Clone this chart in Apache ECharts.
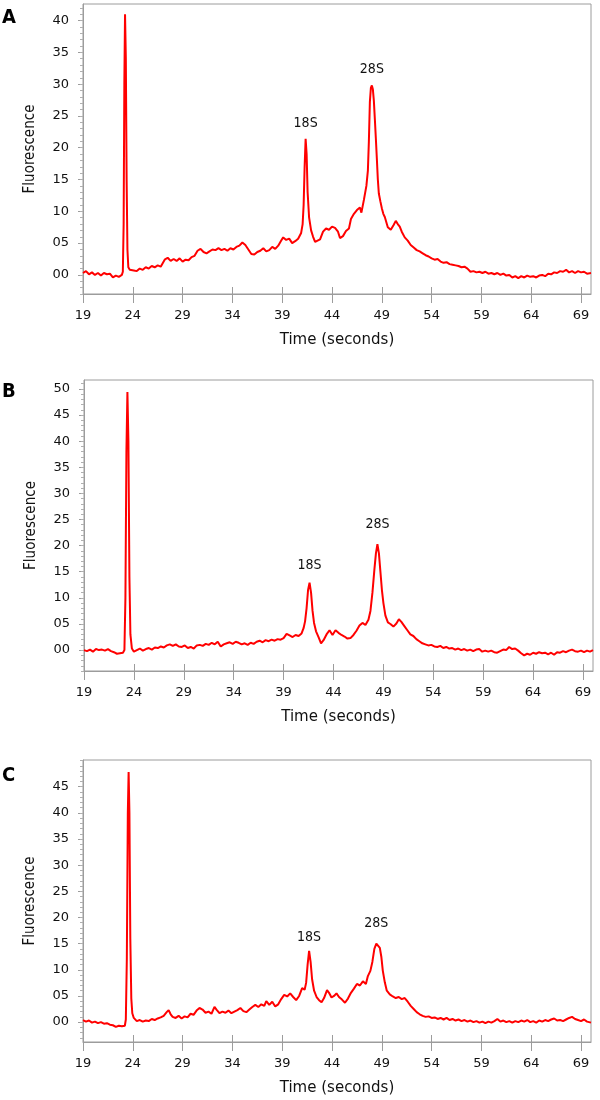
<!DOCTYPE html>
<html>
<head>
<meta charset="utf-8">
<script src="https://cdn.jsdelivr.net/npm/echarts@6/dist/echarts.min.js"></script>
<style>html,body{margin:0;padding:0;background:#fff}#c{width:600px;height:1100px}</style>
</head>
<body>
<div id="c"></div>
<script>
// ---- data (time in seconds, fluorescence) ----
const panelA = [[19.0,0.3],[19.3,0.6],[19.6,0.1],[19.9,0.4],[20.2,0.0],[20.5,0.3],[20.8,-0.1],[21.1,0.3],[21.4,0.1],[21.7,0.2],[22.0,-0.4],[22.3,-0.1],[22.6,-0.3],[22.9,0.0],[23.0,0.5],[23.08,8],[23.15,30],[23.22,41.0],[23.3,34],[23.38,15],[23.46,4],[23.55,1.2],[23.7,0.8],[23.9,0.5],[24.1,0.7],[24.4,0.6],[24.7,1.0],[25.0,0.8],[25.3,1.2],[25.6,1.0],[25.9,1.4],[26.2,1.2],[26.5,1.5],[26.8,1.3],[27.0,1.5],[27.2,2.4],[27.5,2.7],[27.8,2.2],[28.1,2.5],[28.4,2.2],[28.7,2.6],[29.0,2.1],[29.3,2.4],[29.6,2.3],[29.9,2.8],[30.2,3.0],[30.5,3.8],[30.8,4.1],[31.1,3.6],[31.4,3.4],[31.7,3.7],[32.0,4.0],[32.3,3.9],[32.6,4.2],[32.9,3.9],[33.2,4.1],[33.5,3.8],[33.8,4.2],[34.1,4.0],[34.4,4.4],[34.7,4.6],[35.0,5.1],[35.3,4.7],[35.6,4.0],[35.9,3.3],[36.2,3.2],[36.5,3.6],[36.8,3.8],[37.1,4.2],[37.4,3.7],[37.7,3.9],[38.0,4.4],[38.3,4.1],[38.6,4.6],[38.9,5.4],[39.1,5.9],[39.4,5.5],[39.7,5.7],[40.0,5.0],[40.3,5.3],[40.6,5.7],[40.9,6.6],[41.05,8.0],[41.15,11],[41.25,17],[41.35,21.4],[41.45,19],[41.55,13],[41.7,9.0],[41.9,7.0],[42.1,6.0],[42.3,5.2],[42.5,4.9],[42.8,5.6],[43.1,6.8],[43.4,7.3],[43.7,7.1],[44.0,7.6],[44.3,7.4],[44.6,6.8],[44.8,5.8],[45.1,6.1],[45.4,6.9],[45.7,7.3],[45.9,8.8],[46.2,9.6],[46.5,10.2],[46.8,10.6],[46.95,9.8],[47.2,11.8],[47.45,14],[47.6,16.4],[47.7,21],[47.8,27.2],[47.9,29.4],[48.0,29.8],[48.1,29.2],[48.2,27.4],[48.3,24.5],[48.4,21.5],[48.5,18.3],[48.6,15],[48.7,12.8],[48.85,11.6],[49.0,10.5],[49.15,9.6],[49.3,9.1],[49.6,7.5],[49.9,7.1],[50.2,7.9],[50.4,8.5],[50.6,8.0],[50.8,7.6],[51.0,6.8],[51.3,5.9],[51.6,5.4],[51.9,4.7],[52.2,4.3],[52.5,3.9],[52.8,3.7],[53.1,3.4],[53.4,3.1],[53.7,2.9],[54.0,2.6],[54.3,2.4],[54.6,2.5],[54.9,2.1],[55.2,1.9],[55.5,2.0],[55.8,1.7],[56.1,1.6],[56.4,1.5],[56.7,1.4],[57.0,1.2],[57.3,1.3],[57.6,1.0],[57.9,0.5],[58.2,0.6],[58.5,0.4],[58.8,0.5],[59.1,0.3],[59.4,0.5],[59.7,0.2],[60.0,0.3],[60.3,0.1],[60.6,0.3],[60.9,0.0],[61.2,0.2],[61.5,-0.1],[61.8,0.0],[62.1,-0.4],[62.4,-0.2],[62.7,-0.5],[63.0,-0.2],[63.3,-0.4],[63.6,-0.1],[63.9,-0.3],[64.2,-0.2],[64.5,-0.4],[64.8,-0.1],[65.1,0.0],[65.4,-0.2],[65.7,0.2],[66.0,0.1],[66.3,0.4],[66.6,0.3],[66.9,0.6],[67.2,0.5],[67.5,0.8],[67.8,0.4],[68.1,0.6],[68.4,0.3],[68.7,0.6],[69.0,0.4],[69.3,0.5],[69.6,0.2],[70.0,0.3]];

const panelB = [[19.0,0.0],[19.3,-0.2],[19.6,0.1],[19.9,-0.3],[20.2,0.2],[20.5,0.0],[20.8,0.1],[21.1,-0.1],[21.4,0.2],[21.7,-0.2],[22.0,-0.4],[22.3,-0.7],[22.6,-0.6],[22.9,-0.5],[23.05,0.0],[23.15,10],[23.25,38],[23.35,49.4],[23.45,40],[23.55,14],[23.65,3],[23.8,0.3],[24.0,-0.3],[24.3,0.0],[24.6,0.3],[24.9,-0.1],[25.2,0.2],[25.5,0.4],[25.8,0.1],[26.1,0.5],[26.4,0.4],[26.7,0.7],[27.0,0.5],[27.3,0.9],[27.6,1.1],[27.9,0.8],[28.2,1.1],[28.5,0.7],[28.8,0.6],[29.1,0.9],[29.4,0.4],[29.7,0.6],[30.0,0.3],[30.3,0.9],[30.6,1.0],[30.9,0.8],[31.2,1.2],[31.5,1.0],[31.8,1.4],[32.1,1.1],[32.4,1.6],[32.7,0.7],[33.0,1.1],[33.3,1.3],[33.6,1.5],[33.9,1.2],[34.2,1.6],[34.5,1.4],[34.8,1.1],[35.1,1.3],[35.4,1.0],[35.7,1.4],[36.0,1.2],[36.3,1.6],[36.6,1.8],[36.9,1.5],[37.2,1.9],[37.5,1.7],[37.8,2.0],[38.1,1.8],[38.4,2.1],[38.7,2.0],[39.0,2.3],[39.3,3.1],[39.6,2.8],[39.9,2.5],[40.2,2.9],[40.5,2.7],[40.8,3.2],[41.0,4.2],[41.15,5.5],[41.3,8],[41.45,11.5],[41.6,12.9],[41.75,11],[41.9,7.5],[42.05,5.2],[42.25,3.6],[42.5,2.5],[42.75,1.3],[43.0,1.9],[43.3,3.0],[43.6,3.8],[43.9,2.9],[44.2,3.8],[44.5,3.3],[44.8,2.9],[45.1,2.6],[45.4,2.2],[45.7,2.3],[46.0,2.9],[46.3,3.7],[46.6,4.7],[46.9,5.2],[47.2,4.8],[47.5,5.8],[47.7,7.5],[47.9,11],[48.1,15.5],[48.25,18.5],[48.4,20.3],[48.55,18.5],[48.7,15],[48.85,11.5],[49.0,9.0],[49.2,6.6],[49.45,5.3],[49.7,5.0],[50.0,4.5],[50.3,5.1],[50.55,5.9],[50.8,5.4],[51.1,4.6],[51.4,3.8],[51.7,3.0],[52.0,2.7],[52.3,2.1],[52.6,1.7],[52.9,1.3],[53.2,1.1],[53.5,0.9],[53.8,1.0],[54.1,0.7],[54.4,0.6],[54.7,0.8],[55.0,0.4],[55.3,0.6],[55.6,0.3],[55.9,0.4],[56.2,0.1],[56.5,0.3],[56.8,0.0],[57.1,0.2],[57.4,-0.1],[57.7,0.1],[58.0,-0.2],[58.3,0.1],[58.6,0.2],[58.9,-0.3],[59.2,-0.1],[59.5,-0.3],[59.8,-0.1],[60.1,-0.4],[60.4,-0.5],[60.7,-0.2],[61.0,0.1],[61.3,0.0],[61.6,0.6],[61.9,0.2],[62.2,0.3],[62.5,-0.1],[62.8,-0.6],[63.1,-1.0],[63.4,-0.7],[63.7,-0.9],[64.0,-0.5],[64.3,-0.7],[64.6,-0.4],[64.9,-0.6],[65.2,-0.5],[65.5,-0.8],[65.8,-0.5],[66.1,-0.9],[66.4,-0.4],[66.7,-0.5],[67.0,-0.2],[67.3,-0.4],[67.6,-0.1],[67.9,0.1],[68.2,-0.2],[68.5,-0.3],[68.8,-0.1],[69.1,-0.4],[69.4,-0.1],[69.7,-0.3],[70.0,0.0]];

const panelC = [[19.0,0.4],[19.3,0.1],[19.6,0.3],[19.9,-0.1],[20.2,0.1],[20.5,-0.2],[20.8,0.0],[21.1,-0.3],[21.4,-0.2],[21.7,-0.5],[22.0,-0.6],[22.3,-0.9],[22.6,-0.7],[22.9,-0.8],[23.2,-0.7],[23.3,0.5],[23.4,12],[23.5,40],[23.58,47.8],[23.66,40],[23.75,16],[23.85,4.5],[23.95,1.7],[24.1,0.8],[24.4,0.2],[24.7,0.4],[25.0,0.1],[25.3,0.3],[25.6,0.2],[25.9,0.6],[26.2,0.4],[26.5,0.7],[26.8,0.9],[27.1,1.2],[27.4,1.9],[27.6,2.3],[27.8,1.5],[28.0,1.0],[28.3,0.8],[28.6,1.2],[28.9,0.7],[29.2,1.1],[29.5,0.9],[29.8,1.6],[30.1,1.4],[30.4,2.2],[30.7,2.7],[31.0,2.4],[31.3,1.8],[31.6,2.0],[31.9,1.6],[32.2,2.9],[32.4,2.4],[32.7,1.7],[33.0,2.0],[33.3,1.8],[33.6,2.2],[33.9,1.7],[34.2,2.0],[34.5,2.3],[34.8,2.7],[35.1,2.1],[35.4,1.9],[35.7,2.4],[36.0,2.9],[36.3,3.3],[36.6,2.9],[36.9,3.4],[37.2,3.1],[37.4,4.0],[37.7,3.3],[38.0,3.9],[38.3,3.0],[38.6,3.4],[38.9,4.4],[39.2,5.2],[39.5,4.9],[39.8,5.5],[40.1,4.8],[40.4,4.2],[40.7,5.0],[41.0,6.5],[41.25,6.2],[41.4,7.5],[41.55,11],[41.7,13.6],[41.85,11.5],[42.0,8.2],[42.2,6.0],[42.45,4.8],[42.7,4.2],[42.95,3.8],[43.2,4.6],[43.5,6.1],[43.7,5.6],[43.95,4.7],[44.2,5.0],[44.45,5.5],[44.7,4.8],[45.0,4.3],[45.3,3.7],[45.6,4.5],[45.9,5.6],[46.2,6.4],[46.5,7.3],[46.8,7.0],[47.1,7.8],[47.4,7.3],[47.6,8.8],[47.85,9.8],[48.05,11.5],[48.25,14.0],[48.45,15.0],[48.6,14.8],[48.8,14.2],[48.95,12.5],[49.1,9.8],[49.3,7.6],[49.5,6.0],[49.8,5.3],[50.1,4.9],[50.4,4.6],[50.7,4.8],[51.0,4.4],[51.3,4.6],[51.6,3.9],[51.9,3.1],[52.2,2.5],[52.5,1.9],[52.8,1.5],[53.1,1.2],[53.4,1.0],[53.7,1.1],[54.0,0.8],[54.3,0.9],[54.6,0.6],[54.9,0.8],[55.2,0.5],[55.5,0.8],[55.8,0.4],[56.1,0.6],[56.4,0.3],[56.7,0.5],[57.0,0.2],[57.3,0.4],[57.6,0.1],[57.9,0.3],[58.2,0.0],[58.5,0.2],[58.8,-0.1],[59.1,0.1],[59.4,-0.2],[59.7,0.1],[60.0,-0.1],[60.3,0.2],[60.6,0.6],[60.9,0.1],[61.2,0.3],[61.5,0.0],[61.8,0.2],[62.1,-0.1],[62.4,0.2],[62.7,0.0],[63.0,0.3],[63.3,0.1],[63.6,0.4],[63.9,0.0],[64.2,0.2],[64.5,-0.1],[64.8,0.3],[65.1,0.1],[65.4,0.4],[65.7,0.2],[66.0,0.5],[66.3,0.7],[66.6,0.3],[66.9,0.4],[67.2,0.2],[67.5,0.5],[67.8,0.8],[68.1,1.0],[68.4,0.6],[68.7,0.4],[69.0,0.2],[69.3,0.5],[69.6,0.1],[70.0,-0.1]];

const xTicks = [19, 24, 29, 34, 39, 44, 49, 54, 59, 64, 69];
const yTicksA = [0, 5, 10, 15, 20, 25, 30, 35, 40];
const yTicksB = [0, 5, 10, 15, 20, 25, 30, 35, 40, 45, 50];
const yTicksC = [0, 5, 10, 15, 20, 25, 30, 35, 40, 45];
const panelLetters = ['A', 'B', 'C'];
const peakNames = ['18S', '28S'];
// peak positions [time, fluorescence] for the annotation labels
const peaksA = [[41.35, 21.4], [48.0, 29.8]];
const peaksB = [[41.6, 12.9], [48.4, 20.3]];
const peaksC = [[41.7, 13.6], [48.45, 15.0]];

// ---- layout ----
const panels = [
  { data: panelA, yTicks: yTicksA, peaks: peaksA, min: -3.0, max: 42.6, grid: { left: 83, top: 4, width: 508, height: 290 }, letterY: 18, labelOff: [15, 16] },
  { data: panelB, yTicks: yTicksB, peaks: peaksB, min: -4.0, max: 51.7, grid: { left: 84, top: 380, width: 509, height: 291 }, letterY: 392, labelOff: [17, 20] },
  { data: panelC, yTicks: yTicksC, peaks: peaksC, min: -3.8, max: 50.1, grid: { left: 83, top: 760, width: 508, height: 282 }, letterY: 776, labelOff: [14, 20] }
];

const AX = '#9c9c9c';
const NARROW = "'DejaVu Sans Condensed', 'Liberation Sans', Arial, sans-serif";
const pad2 = v => String(v).padStart(2, '0');
const grids = [], xAxes = [], yAxes = [], series = [], graphics = [];

panels.forEach((p, i) => {
  grids.push(Object.assign({ show: true, borderColor: AX, borderWidth: 1, containLabel: false }, p.grid));
  // main x axis (outside ticks + labels)
  xAxes.push({
    type: 'value', gridIndex: i, min: 19, max: 70, position: 'bottom',
    axisLine: { show: true, onZero: false, lineStyle: { color: AX, width: 1 } },
    axisTick: { show: true, customValues: xTicks, length: 9, lineStyle: { color: AX, width: 1 } },
    axisLabel: { customValues: xTicks, margin: 15, color: '#111', fontFamily: 'DejaVu Sans', fontSize: 13 },
    splitLine: { show: false },
    name: 'Time (seconds)', nameLocation: 'middle', nameGap: 39,
    nameTextStyle: { color: '#111', fontFamily: 'DejaVu Sans', fontSize: 15 }
  });
  // companion x axis for the inward part of the ticks
  xAxes.push({
    type: 'value', gridIndex: i, min: 19, max: 70, position: 'bottom',
    axisLine: { show: false, onZero: false },
    axisTick: { show: true, inside: true, customValues: xTicks, length: 7, lineStyle: { color: AX, width: 1 } },
    axisLabel: { show: false }, splitLine: { show: false }
  });
  const minors = [];
  for (let v = Math.ceil(p.min); v <= Math.floor(p.max); v++) minors.push(v);
  yAxes.push({
    type: 'value', gridIndex: i, min: p.min, max: p.max, position: 'left',
    axisLine: { show: true, onZero: false, lineStyle: { color: AX, width: 1 } },
    axisTick: { show: true, customValues: p.yTicks, length: 5, lineStyle: { color: AX, width: 1 } },
    axisLabel: { customValues: p.yTicks, formatter: pad2, margin: 14, color: '#111', fontFamily: 'DejaVu Sans', fontSize: 13 },
    splitLine: { show: false },
    name: 'Fluorescence', nameLocation: 'middle', nameGap: 45,
    nameTextStyle: { color: '#111', fontFamily: NARROW, fontSize: 15 }
  });
  yAxes.push({
    type: 'value', gridIndex: i, min: p.min, max: p.max, position: 'left',
    axisLine: { show: false, onZero: false },
    axisTick: { show: true, customValues: minors, length: 3, lineStyle: { color: '#b0b0b0', width: 1 } },
    axisLabel: { show: true, customValues: minors, formatter: () => '' }, splitLine: { show: false }
  });
  series.push({
    type: 'line', xAxisIndex: 2 * i, yAxisIndex: 2 * i, data: p.data,
    showSymbol: false, symbol: 'none', animation: false,
    lineStyle: { color: '#ff0000', width: 2 }, z: 3,
    markPoint: {
      symbol: 'circle', symbolSize: 0, animation: false,
      label: { show: true, color: '#111', fontFamily: NARROW, fontSize: 14 },
      data: p.peaks.map((pk, k) => ({
        coord: pk, name: peakNames[k], value: peakNames[k],
        label: { formatter: peakNames[k], position: 'inside', offset: [0, -p.labelOff[k]] }
      }))
    }
  });
  graphics.push({
    type: 'text', left: 2, top: p.letterY - 10,
    style: { text: panelLetters[i], fontFamily: NARROW, fontWeight: 'bold', fontSize: 20, fill: '#000' }
  });
});

const chart = echarts.init(document.getElementById('c'), null, { renderer: 'canvas' });
chart.setOption({
  animation: false,
  backgroundColor: '#ffffff',
  grid: grids, xAxis: xAxes, yAxis: yAxes, series: series, graphic: graphics
});
</script>
</body>
</html>
